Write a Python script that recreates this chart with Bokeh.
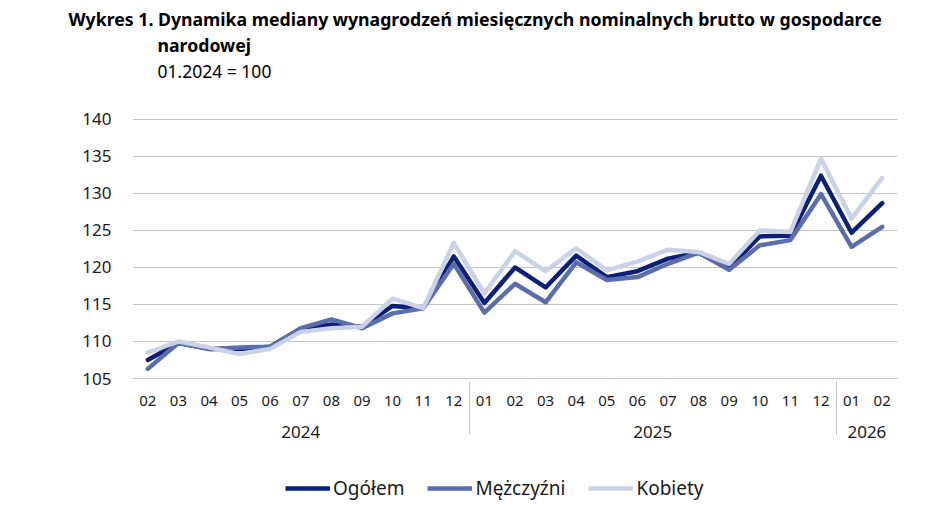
from bokeh.plotting import figure
from bokeh.models import FactorRange, Range1d, FixedTicker, Legend, LegendItem, Title
from bokeh.layouts import column
from bokeh.embed import file_html
from bokeh.resources import INLINE

years = ["2024"] * 11 + ["2025"] * 12 + ["2026"] * 2
months = ["02", "03", "04", "05", "06", "07", "08", "09", "10", "11", "12",
          "01", "02", "03", "04", "05", "06", "07", "08", "09", "10", "11", "12",
          "01", "02"]
ogolem = [107.5, 109.8, 109.0, 109.0, 109.3, 111.7, 112.3, 112.0, 114.8, 114.5, 121.5,
          115.2, 120.0, 117.3, 121.6, 118.7, 119.5, 121.2, 122.0, 120.0, 124.2, 124.3, 132.4,
          124.7, 128.7]
mezczyzni = [106.3, 109.8, 109.0, 109.2, 109.3, 111.8, 113.0, 111.8, 113.8, 114.5, 120.5,
             113.9, 117.8, 115.3, 120.7, 118.3, 118.7, 120.5, 122.0, 119.7, 123.0, 123.7, 129.9,
             122.8, 125.5]
kobiety = [108.5, 110.0, 109.2, 108.3, 109.0, 111.3, 111.8, 112.0, 115.8, 114.5, 123.3,
           116.5, 122.2, 119.5, 122.6, 119.6, 120.8, 122.4, 122.1, 120.5, 125.0, 124.8, 134.7,
           126.6, 132.1]
series_names = ["Ogółem", "Mężczyźni", "Kobiety"]
y_ticks = [105, 110, 115, 120, 125, 130, 135, 140]
title_line1 = "Wykres 1. Dynamika mediany wynagrodzeń miesięcznych nominalnych brutto w gospodarce"
title_line2 = "narodowej"
subtitle = "01.2024 = 100"

colors = ["#0b1f78", "#5b6dab", "#cbd1e7"]
FONT = "Noto Sans"
GRID = "#c4c4c4"
TXT = "#1a1a1a"

factors = list(zip(years, months))
x_range = FactorRange(*factors, range_padding=0, factor_padding=0, group_padding=0)

p = figure(width=940, height=468, x_range=x_range, y_range=Range1d(105, 140.13),
           output_backend="svg", toolbar_location=None,
           min_border_left=132, min_border_right=43, min_border_top=118, min_border_bottom=90)
p.outline_line_color = None

for vals, col in zip([ogolem, mezczyzni, kobiety], colors):
    p.line(x=factors, y=vals, line_color=col, line_width=4.5, line_join="round", line_cap="round")

# y axis
p.yaxis.ticker = FixedTicker(ticks=y_ticks)
p.yaxis.axis_line_color = None
p.yaxis.major_tick_line_color = None
p.yaxis.major_tick_out = 0
p.yaxis.minor_tick_line_color = None
p.yaxis.major_label_text_font = FONT
p.yaxis.major_label_text_font_size = "17px"
p.yaxis.major_label_text_color = TXT
p.yaxis.major_label_standoff = 21

# category axis
xa = p.xaxis[0]
xa.axis_line_color = GRID
xa.axis_line_width = 1
xa.major_tick_line_color = None
xa.major_tick_out = 0
xa.minor_tick_line_color = None
xa.major_label_text_font = FONT
xa.major_label_text_font_size = "15px"
xa.major_label_text_color = TXT
xa.major_label_standoff = 17
xa.group_text_font = FONT
xa.group_text_font_size = "17px"
xa.group_text_font_style = "normal"
xa.group_text_color = TXT
xa.separator_line_color = GRID
xa.separator_line_width = 1

p.xgrid.grid_line_color = None
p.ygrid.grid_line_color = GRID
p.ygrid.grid_line_width = 1

# titles (added nearest-first); a blank spacer keeps the subtitle clear of the plot
p.add_layout(Title(text=" ", text_font=FONT, text_font_size="10px", standoff=20), "above")
p.add_layout(Title(text=subtitle, text_font=FONT, text_font_size="17.5px",
                   text_font_style="normal",
                   text_color="#000000", align="left", offset=25, standoff=0), "above")
p.add_layout(Title(text=title_line2, text_font=FONT, text_font_size="17.7px", text_font_style="bold",
                   text_color="#000000", align="left", offset=25, standoff=0), "above")
p.add_layout(Title(text=title_line1, text_font=FONT, text_font_size="17.7px", text_font_style="bold",
                   text_color="#000000", align="left", offset=-64, standoff=0), "above")

# legend strip beneath the chart (its lines fall outside its own 0..1 view)
pl = figure(width=940, height=40, x_axis_type=None, y_axis_type=None,
            x_range=x_range, y_range=Range1d(0, 1),
            output_backend="svg", toolbar_location=None, min_border=0)
pl.outline_line_color = None
pl.grid.visible = False
leg_renderers = [pl.line(x=factors, y=vals, line_color=col, line_width=4.5)
                 for vals, col in zip([ogolem, mezczyzni, kobiety], colors)]
legend = Legend(items=[LegendItem(label=n, renderers=[r]) for n, r in zip(series_names, leg_renderers)],
                orientation="horizontal", location=(153, 7),
                glyph_width=45, glyph_height=20, label_height=20, label_standoff=3, spacing=23,
                label_text_font=FONT, label_text_font_size="19px", label_text_color=TXT,
                border_line_color=None, background_fill_alpha=0, margin=0, padding=0)
pl.add_layout(legend)

open("out.html", "w").write(file_html(column(p, pl, spacing=0), INLINE))
